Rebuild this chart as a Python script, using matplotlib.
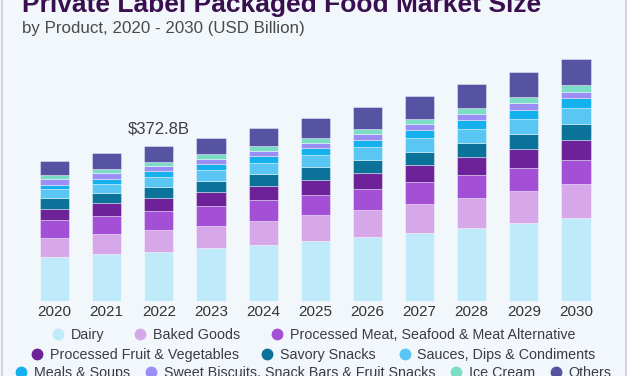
import numpy as np
import matplotlib
matplotlib.use("Agg")
from matplotlib import pyplot as plt
from matplotlib.lines import Line2D
from matplotlib.patches import Rectangle

plt.rcParams['font.family'] = ['Liberation Sans', 'DejaVu Sans']

years = ['2020', '2021', '2022', '2023', '2024', '2025', '2026', '2027', '2028', '2029', '2030']

# USD billion
dairy = [104.2, 111.4, 117.9, 126.7, 134.7, 143.6, 153.2, 163.6, 173.9, 185.9, 198.9]
baked = [47.4, 49.8, 52.9, 53.6, 57.7, 61.8, 64.9, 69.0, 73.8, 77.7, 82.5]
meat = [43.3, 42.6, 44.0, 47.4, 48.8, 48.8, 50.5, 52.2, 53.6, 56.0, 56.0]
fruit = [26.5, 30.5, 32.9, 33.7, 34.4, 36.8, 39.2, 41.6, 43.3, 45.0, 48.8]
savory = [24.8, 24.1, 24.8, 26.5, 29.6, 29.6, 30.5, 32.0, 34.4, 35.4, 38.5]
sauces = [21.6, 23.3, 24.1, 26.5, 25.7, 28.9, 30.5, 32.0, 33.7, 36.8, 38.5]
meals = [11.3, 12.0, 14.4, 14.4, 16.1, 16.8, 17.6, 19.2, 20.9, 21.6, 23.3]
sweet = [12.7, 12.7, 12.7, 12.7, 12.7, 13.7, 14.4, 14.4, 15.2, 16.8, 16.1]
icecream = [9.6, 9.6, 10.3, 11.3, 12.0, 12.0, 12.7, 12.7, 13.7, 13.7, 16.1]
others = [35.4, 38.5, 38.5, 39.2, 44.0, 48.1, 52.2, 56.0, 59.4, 61.8, 62.5]

series = [dairy, baked, meat, fruit, savory, sauces, meals, sweet, icecream, others]
names = ['Dairy', 'Baked Goods', 'Processed Meat, Seafood & Meat Alternative',
         'Processed Fruit & Vegetables', 'Savory Snacks', 'Sauces, Dips & Condiments',
         'Meals & Soups', 'Sweet Biscuits, Snack Bars & Fruit Snacks', 'Ice Cream', 'Others']
colors = ['#BEEAF9', '#D6A8EA', '#A34FD6', '#6D2299', '#0B7399', '#59C6F3',
          '#15B0EE', '#9B8EF7', '#7BDDC6', '#5653A2']

bg = '#F2F7FB'
fig = plt.figure(figsize=(6.27, 3.76), dpi=100)
fig.patch.set_facecolor(bg)
fig.patches.append(Rectangle((1.5/627, -0.01), 624/627, 1.02, transform=fig.transFigure,
                             fill=False, edgecolor='#cfcbd8', linewidth=1.2))

ax = fig.add_axes([0.0204, 0.2003, 0.9648, 0.7076])
ax.set_facecolor(bg)
x = np.arange(len(years))
bottom = np.zeros(len(years))
for vals, c, n in zip(series, colors, names):
    ax.bar(x, vals, 0.56, bottom=bottom, color=c, label=n,
           edgecolor=(1, 1, 1, 0.45), linewidth=0.6)
    bottom += np.array(vals)

ax.set_xlim(-0.8, 10.8)
ax.set_ylim(0, 640)
ax.set_xticks(x)
ax.set_xticklabels(years, fontsize=11, color='#333333')
ax.tick_params(axis='x', length=0, pad=3)
ax.set_yticks([])
for s in ax.spines.values():
    s.set_visible(False)

ax.annotate('$372.8B', xy=(2, bottom[2]), xytext=(0, 9), textcoords='offset points',
            ha='center', va='baseline', fontsize=12, color='#3d3d45')

fig.text(22/627, 1 - 12/376, 'Private Label Packaged Food Market Size', fontsize=19,
         fontweight='bold', color='#3A0F4F', va='baseline', ha='left')
fig.text(22/627, 1 - 33/376, 'by Product, 2020 - 2030 (USD Billion)', fontsize=12.2,
         color='#4a4a4a', va='baseline', ha='left')

rows = [[0, 1, 2], [3, 4, 5], [6, 7, 8, 9]]
row_y = [1 - 335/376, 1 - 355/376, 1 - 373/376]
row_gap = [2.15, 1.6, 1.05]
for idx, yy, gap in zip(rows, row_y, row_gap):
    handles = [Line2D([], [], marker='o', linestyle='none', markersize=7.5,
                      markerfacecolor=colors[i], markeredgecolor=colors[i]) for i in idx]
    leg = fig.legend(handles, [names[i] for i in idx], loc='center', bbox_to_anchor=(0.5, yy),
                     ncol=len(idx), frameon=False, fontsize=10.3, handlelength=0.8,
                     handletextpad=0.5, columnspacing=gap, borderpad=0, borderaxespad=0)
    for t in leg.get_texts():
        t.set_color('#3d3a45')

fig.savefig('out.png', dpi=100, facecolor=bg)
